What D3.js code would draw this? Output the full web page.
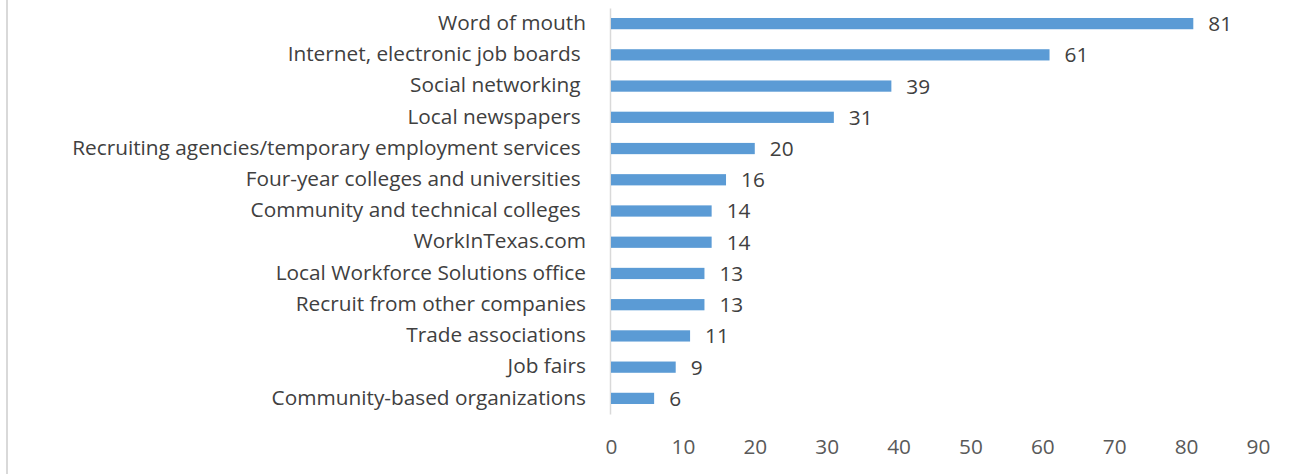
<!DOCTYPE html>
<html>
<head>
<meta charset="utf-8">
<script src="https://cdn.jsdelivr.net/npm/d3@7"></script>
<style>
  html, body { margin: 0; padding: 0; background: #fff; }
  svg { display: block; font-family: "Open Sans", "Noto Sans", sans-serif; }
  text { white-space: pre; }
</style>
</head>
<body>
<svg id="chart" width="1302" height="474"></svg>
<script>
// Recruiting methods, number of employers using each
const categories = [
  "Word of mouth",
  "Internet, electronic job boards ",
  "Social networking ",
  "Local newspapers ",
  "Recruiting agencies/temporary employment services ",
  "Four-year colleges and universities ",
  "Community and technical colleges ",
  "WorkInTexas.com",
  "Local Workforce Solutions office",
  "Recruit from other companies",
  "Trade associations",
  "Job fairs",
  "Community-based organizations"
];
const values = [81, 61, 39, 31, 20, 16, 14, 14, 13, 13, 11, 9, 6];
const xTicks = [0, 10, 20, 30, 40, 50, 60, 70, 80, 90];

const svg = d3.select("#chart");
const W = 1302, H = 474;
const margin = { top: 8, right: 44, bottom: 60, left: 611 };
const fontSize = "20.8px";

// frame line on the left edge
svg.append("line")
  .attr("x1", 7).attr("x2", 7).attr("y1", 0).attr("y2", H)
  .attr("stroke", "#d9d9d9").attr("stroke-width", 2);

const x = d3.scaleLinear().domain([0, 90]).range([margin.left, W - margin.right]);
const y = d3.scaleBand().domain(categories).range([margin.top, H - margin.bottom]).paddingInner(0.64).paddingOuter(0.32);

// category axis
const yAxis = d3.axisLeft(y).tickSize(0).tickPadding(24);
const gy = svg.append("g").attr("transform", `translate(${margin.left - 1},0)`).call(yAxis);
gy.select(".domain").attr("stroke", "#d9d9d9").attr("stroke-width", 1.5);
gy.selectAll("text").attr("fill", "#404040").style("font-size", fontSize)
  .attr("font-family", "Open Sans, Noto Sans, sans-serif").attr("dy", "0.3em");

// value axis (labels only)
const xAxis = d3.axisBottom(x).tickValues(xTicks).tickSize(0).tickPadding(0);
const gx = svg.append("g").attr("transform", `translate(0,${H - margin.bottom})`).call(xAxis);
gx.select(".domain").remove();
gx.selectAll("text").attr("fill", "#595959").style("font-size", fontSize)
  .attr("font-family", "Open Sans, Noto Sans, sans-serif").attr("dy", null).attr("y", 40);

const rows = categories.map((c, i) => ({ c, v: values[i] }));

svg.append("g").selectAll("rect").data(rows).join("rect")
  .attr("x", x(0))
  .attr("y", d => y(d.c))
  .attr("width", d => x(d.v) - x(0))
  .attr("height", y.bandwidth())
  .attr("fill", "#5b9bd5");

svg.append("g").selectAll("text").data(rows).join("text")
  .attr("x", d => x(d.v) + 15)
  .attr("y", d => y(d.c) + y.bandwidth() / 2)
  .attr("dy", "0.36em")
  .attr("fill", "#404040")
  .style("font-size", fontSize)
  .text(d => d.v);
</script>
</body>
</html>
